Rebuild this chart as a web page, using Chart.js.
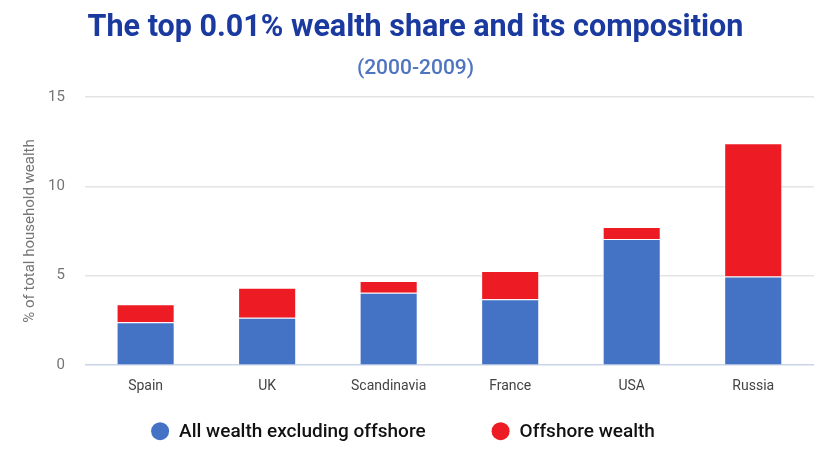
<!DOCTYPE html>
<html>
<head>
<meta charset="utf-8">
<script src="https://cdn.jsdelivr.net/npm/chart.js@4/dist/chart.umd.min.js"></script>
<style>
  html, body { margin: 0; padding: 0; background: #fff; }
  #wrap { width: 826px; height: 468px; position: relative; }
</style>
</head>
<body>
<div id="wrap"><canvas id="chart"></canvas></div>
<script>
// ─── Data ───
const regions = ['Spain', 'UK', 'Scandinavia', 'France', 'USA', 'Russia'];
const onshoreShare = [2.4, 2.65, 4.05, 3.68, 7.05, 4.96];
const offshoreShare = [1.0, 1.68, 0.65, 1.58, 0.67, 7.45];
const yTicks = [0, 5, 10, 15];

const colors = { blue: '#4472c4', red: '#ed1c24', title: '#1b3a9f', sub: '#4f74c0', tick: '#757575', grid: '#e4e4e4', base: '#c9d4ea' };
const legendFont = '500 19px Roboto';

// ─── Legend: circles + labels, centred under the chart ───
const dotLegend = {
  id: 'dotLegend',
  afterDraw(chart) {
    const { ctx } = chart;
    const items = chart.data.datasets.map(d => ({ text: d.label, color: d.backgroundColor }));
    const r = 9, gapDot = 10, gapItem = 66;
    ctx.save();
    ctx.font = legendFont;
    const widths = items.map(it => r * 2 + gapDot + ctx.measureText(it.text).width);
    const total = widths.reduce((s, w) => s + w, 0) + gapItem * (items.length - 1);
    let x = chart.width / 2 - 10 - total / 2;
    const y = chart.chartArea.bottom + 66;
    ctx.textBaseline = 'middle';
    items.forEach((it, i) => {
      ctx.fillStyle = it.color;
      ctx.beginPath();
      ctx.arc(x + r, y, r, 0, Math.PI * 2);
      ctx.fill();
      ctx.fillStyle = '#111';
      ctx.fillText(it.text, x + r * 2 + gapDot, y + 1);
      x += widths[i] + gapItem;
    });
    ctx.restore();
  },
};

new Chart(document.getElementById('chart'), {
  type: 'bar',
  data: {
    labels: regions,
    datasets: [
      { label: 'All wealth excluding offshore', data: onshoreShare, backgroundColor: colors.blue, borderColor: 'rgba(255,255,255,0.7)', borderWidth: 1, borderSkipped: 'bottom' },
      { label: 'Offshore wealth', data: offshoreShare, backgroundColor: colors.red, borderColor: 'rgba(255,255,255,0.7)', borderWidth: 1, borderSkipped: 'bottom' },
    ],
  },
  options: {
    responsive: true, maintainAspectRatio: false, animation: false,
    datasets: { bar: { barPercentage: 0.478, categoryPercentage: 1 } },
    layout: { padding: { left: 17, right: 12, top: 6, bottom: 60 } },
    plugins: {
      title: { display: true, text: 'The top 0.01% wealth share and its composition', color: colors.title, font: { family: 'Roboto', size: 30.5, weight: 'bold' }, padding: { top: 4, bottom: 10 } },
      subtitle: { display: true, text: '(2000-2009)', color: colors.sub, font: { family: 'Roboto', size: 21, weight: '500' }, padding: { bottom: 15 } },
      legend: { display: false },
      tooltip: { enabled: false },
    },
    scales: {
      x: {
        stacked: true,
        grid: { display: false, drawTicks: false },
        border: { display: false },
        ticks: { color: '#444', font: { family: 'Roboto', size: 14 }, padding: 13 },
      },
      y: {
        stacked: true, min: 0, max: 15,
        afterBuildTicks: axis => { axis.ticks = yTicks.map(v => ({ value: v })); },
        grid: { color: ctx => ctx.tick && ctx.tick.value === 0 ? colors.base : colors.grid, lineWidth: 1.5, drawTicks: false },
        border: { display: false },
        ticks: { color: colors.tick, font: { family: 'Roboto', size: 15 }, padding: 20 },
        title: { display: true, text: '% of total household wealth', color: colors.tick, font: { family: 'Roboto', size: 15 }, padding: { top: 4, bottom: -11 } },
      },
    },
  },
  plugins: [dotLegend],
});
</script>
</body>
</html>
